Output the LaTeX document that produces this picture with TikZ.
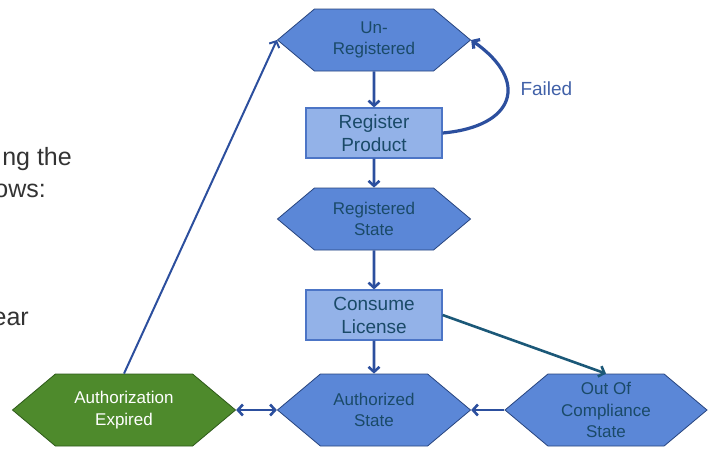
\documentclass[tikz,border=0pt]{standalone}
\usepackage{fontspec}
\setmainfont{Liberation Sans}
\usetikzlibrary{shapes.symbols,arrows.meta}

\definecolor{hexfill}{HTML}{5B87D7}
\definecolor{hexline}{HTML}{27447E}
\definecolor{boxfill}{HTML}{93B2E8}
\definecolor{boxline}{HTML}{4C75C6}
\definecolor{labtext}{HTML}{1A4A68}
\definecolor{arrblue}{HTML}{2C4F9E}
\definecolor{arrteal}{HTML}{1B5878}
\definecolor{expfill}{HTML}{4E8A2C}
\definecolor{expline}{HTML}{2E5A1A}
\definecolor{sidetext}{HTML}{333333}

\begin{document}
\begin{tikzpicture}[x=1pt,y=-1pt]
    \tikzstyle{hexa}=[signal, signal to=west and east, signal pointer angle=80,
        draw=hexline, fill=hexfill, text=labtext, line width=0.8pt,
        minimum width=193pt, minimum height=62pt, inner sep=0pt, align=center,
        font=\fontsize{17}{21.5}\selectfont]
    \tikzstyle{boxx}=[rectangle, draw=boxline, fill=boxfill, text=labtext, line width=1.2pt,
        minimum width=136pt, minimum height=50pt, inner sep=0pt, align=center,
        font=\fontsize{19}{23}\selectfont]
    \tikzstyle{marrs}=[line width=2.6pt, draw=arrblue, -{Straight Barb[length=5pt,width=11pt]}]

    \useasboundingbox (0,0) rectangle (712,448);
    \clip (0,0) rectangle (712,448);

    % text cut off at the left
    \begin{scope}[every node/.style={anchor=base east, text=sidetext, inner sep=0pt, font=\fontsize{25}{31}\selectfont}]
        \node (s1) at (72,165) {ng the};
        \node (s2) at (46,197) {ows:};
        \node (s3) at (29,325) {ear};
    \end{scope}

    % states and steps
    \node[hexa] (unreg) at (374,40) {Un-\\Registered};
    \node[boxx] (regprod) at (374,133) {Register\\Product};
    \node[hexa] (regstate) at (374,219) {Registered\\State};
    \node[boxx] (conslic) at (374,315) {Consume\\License};
    \node[hexa, minimum height=72pt] (authstate) at (374,410) {Authorized\\State};
    \node[hexa, minimum height=72pt, minimum width=202pt] (ooc) at (606,410) {Out Of\\Compliance\\State};
    \node[hexa, minimum height=72pt, minimum width=223pt, fill=expfill, draw=expline, text=white] (authexp) at (124,410) {Authorization\\Expired};

    \draw[marrs] (unreg) -- (regprod);
    \draw[marrs] (regprod) -- (regstate);
    \draw[marrs] (regstate) -- (conslic);
    \draw[marrs] (conslic) -- (authstate);
    \draw[marrs, line width=3.2pt] (regprod.east) to[out=5, in=-35, looseness=1.9] (unreg.east);
    \node[anchor=base west, text=arrblue!90!white, font=\fontsize{19}{23}\selectfont] (failed) at (517,95) {Failed};

    \draw[marrs, draw=arrteal] (conslic.east) -- (ooc.north);
    \draw[marrs] (ooc.west) -- (authstate.east);
    \draw[marrs, {Straight Barb[length=5pt,width=11pt]}-{Straight Barb[length=5pt,width=11pt]}] (authexp.east) -- (authstate.west);
    \draw[marrs, line width=2pt] (authexp.north) -- (unreg.west);
\end{tikzpicture}
\end{document}
